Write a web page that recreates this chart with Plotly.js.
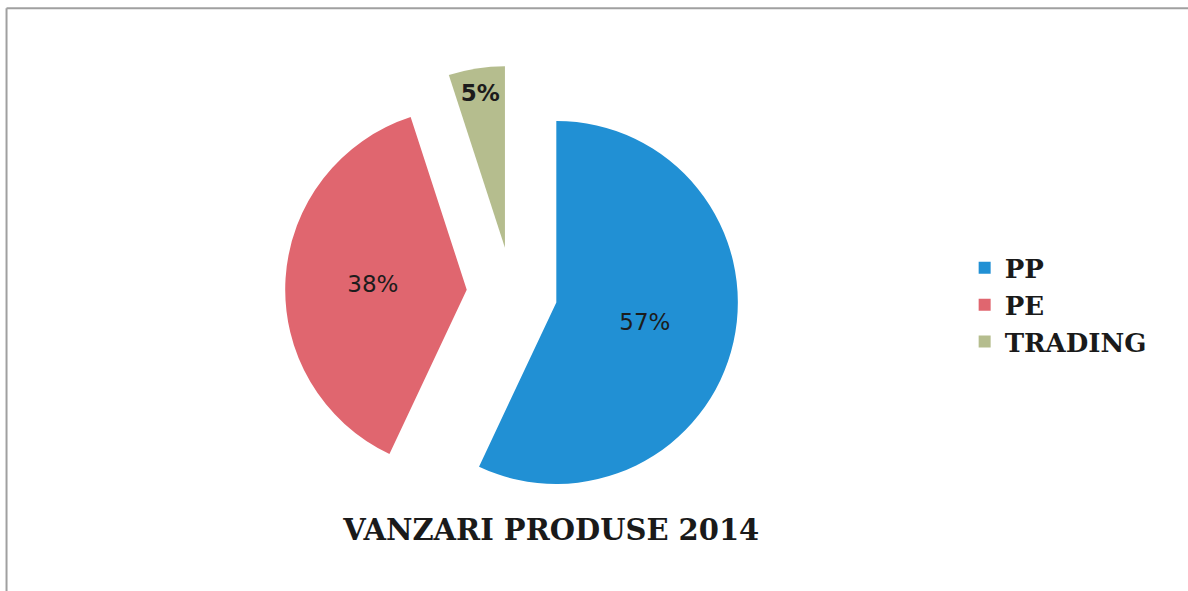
<!DOCTYPE html>
<html>
<head>
<meta charset="utf-8">
<script src="https://cdn.plot.ly/plotly-3.0.1.min.js"></script>
<style>
  html, body { margin: 0; padding: 0; background: #ffffff; }
  #chart { width: 1188px; height: 591px; }
</style>
</head>
<body>
<div id="chart"></div>
<script>
// Data
var categories = ["PP", "PE", "TRADING"];
var shares = [57, 38, 5];
var sliceColors = ["#2190d4", "#e0666f", "#b5bd8e"];
var chartTitle = "VANZARI PRODUSE 2014";

var trace = {
  type: "pie",
  labels: categories,
  values: shares,
  sort: false,
  direction: "clockwise",
  rotation: 0,
  pull: [0.25, 0.25, 0.25],
  marker: { colors: sliceColors, line: { color: "rgba(0,0,0,0)", width: 0 } },
  textinfo: "percent",
  texttemplate: "%{percent:.0%}",
  textposition: "inside",
  insidetextorientation: "horizontal",
  textfont: { family: "DejaVu Sans", size: 23, color: "#1c1c1c", weight: ["normal", "normal", "bold"] },
  domain: { x: [0.24, 0.622], y: [0.117, 0.893] },
  hoverinfo: "label+percent",
  showlegend: true
};

var layout = {
  width: 1188,
  height: 591,
  margin: { l: 0, r: 0, t: 0, b: 0 },
  paper_bgcolor: "#ffffff",
  plot_bgcolor: "#ffffff",
  title: {
    text: "<b>" + chartTitle + "</b>",
    x: 0.464,
    xanchor: "center",
    y: 0.103,
    yanchor: "middle",
    font: { family: "DejaVu Serif", size: 29, color: "#1a1a1a" }
  },
  legend: {
    x: 0.812,
    xanchor: "left",
    y: 0.484,
    yanchor: "middle",
    font: { family: "DejaVu Serif", size: 26, color: "#1a1a1a", weight: "bold" },
    bgcolor: "rgba(0,0,0,0)"
  },
  shapes: [
    { type: "line", xref: "paper", yref: "paper", x0: 0.0055, x1: 0.0055, y0: 0, y1: 0.986,
      line: { color: "#a0a0a0", width: 2 } },
    { type: "line", xref: "paper", yref: "paper", x0: 0.0055, x1: 1, y0: 0.986, y1: 0.986,
      line: { color: "#a0a0a0", width: 2 } }
  ]
};

Plotly.newPlot("chart", [trace], layout, { displayModeBar: false, staticPlot: true });
</script>
</body>
</html>
